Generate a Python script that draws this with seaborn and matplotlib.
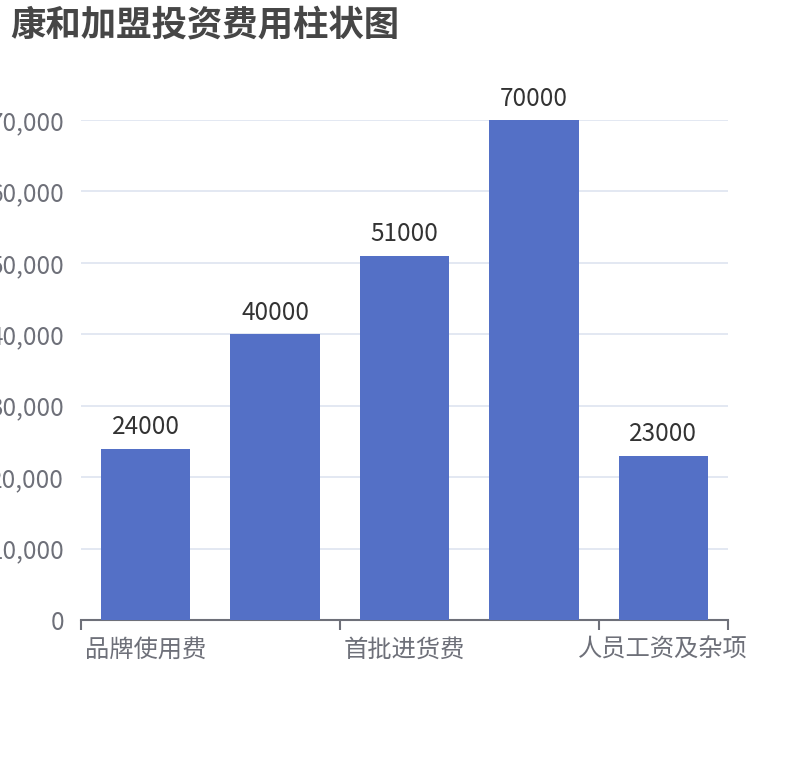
import matplotlib
matplotlib.use('Agg')
import matplotlib.pyplot as plt
from matplotlib.ticker import FuncFormatter, FixedLocator
import seaborn as sns
import pandas as pd

# data
categories = ['品牌使用费', '店面装修费', '首批进货费', '设备采购费', '人员工资及杂项']
values = [24000, 40000, 51000, 70000, 23000]
shown_labels = ['品牌使用费', '首批进货费', '人员工资及杂项']
shown_idx = [0, 2, 4]

sns.set_theme(style='white')
plt.rcParams['font.family'] = ['Noto Sans CJK SC', 'DejaVu Sans']
plt.rcParams['axes.unicode_minus'] = False

df = pd.DataFrame({'cat': categories, 'val': values})

fig = plt.figure(figsize=(8.1, 7.6), dpi=100)
ax = fig.add_axes([81/810, 140/760, 647/810, 500/760])

sns.barplot(data=df, x='cat', y='val', color='#5470c6', width=0.69,
            saturation=1, ax=ax, zorder=3, linewidth=0)

ax.set_xlim(-0.5, len(categories) - 0.5)
ax.set_ylim(0, 70000)
ax.set_yticks(range(0, 70001, 10000))
ax.yaxis.set_major_formatter(FuncFormatter(lambda v, p: f'{int(v):,}'))
ax.grid(axis='y', color='#e0e6f1', linewidth=1.3, zorder=0)
ax.grid(axis='x', visible=False)

# labels only on every other category, ticks on band edges
ax.set_xticks(shown_idx)
ax.set_xticklabels(shown_labels)
ax.xaxis.set_minor_locator(FixedLocator([-0.5, 1.5, 3.5, 4.5]))
ax.tick_params(axis='x', which='major', bottom=True, length=0, pad=12,
               labelsize=17.5, labelcolor='#6e7079')
ax.tick_params(axis='x', which='minor', bottom=True, length=7, width=1.5,
               color='#6e7079')
ax.tick_params(axis='y', length=0, pad=12, labelsize=17.5, labelcolor='#6e7079')

for s in ['left', 'right', 'top']:
    ax.spines[s].set_visible(False)
ax.spines['bottom'].set_color('#6e7079')
ax.spines['bottom'].set_linewidth(1.5)
ax.set_xlabel('')
ax.set_ylabel('')

for c in ax.containers:
    ax.bar_label(c, labels=[str(v) for v in values], padding=6,
                 fontsize=17.5, color='#333333')

fig.text(10/810, 1 - 25/760, '康和加盟投资费用柱状图', fontsize=25.5,
         fontweight='bold', color='#464646', va='center', ha='left')

fig.savefig('out.png', dpi=100)
